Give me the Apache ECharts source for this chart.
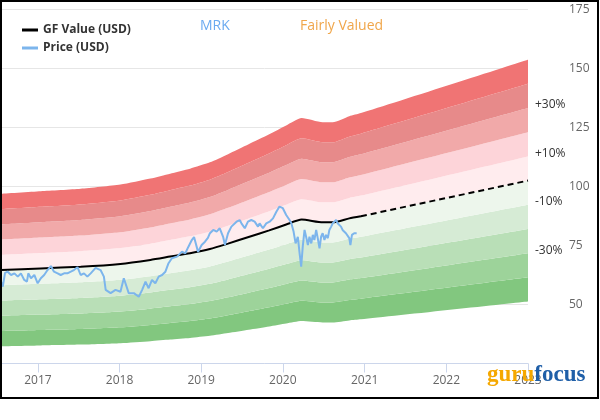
<!DOCTYPE html>
<html>
<head>
<meta charset="utf-8">
<script src="https://cdn.jsdelivr.net/npm/echarts@6/dist/echarts.min.js"></script>
<style>html,body{margin:0;padding:0;background:#fff}#c{width:600px;height:420px}</style>
</head>
<body>
<div id="c"></div>
<script>
// ---- data ----
const gfDates = ['2016-07-20','2017-01-14','2017-07-11','2018-01-05','2018-05-19','2018-08-15','2018-11-12','2019-02-09','2019-05-01','2019-08-01','2019-11-01','2020-01-16','2020-03-25','2020-06-27','2020-08-11','2020-10-24','2020-12-15'];
const gfValues = [64.6,65.3,66.0,67.2,68.9,70.3,71.7,73.5,75.8,78.6,81.4,83.9,86.0,84.8,84.8,86.5,87.4];
const projDates = ['2020-12-15','2023-01-01'];
const projValues = [87.4,102.5];
const priceDates = ['2016-07-20','2016-07-28','2016-08-07','2016-08-19','2016-09-03','2016-09-18','2016-10-03','2016-10-17','2016-11-01','2016-11-13','2016-11-19','2016-12-01','2016-12-16','2016-12-31','2017-01-14','2017-01-29','2017-02-13','2017-02-28','2017-03-14','2017-03-30','2017-04-13','2017-04-28','2017-05-13','2017-05-28','2017-06-11','2017-06-27','2017-07-11','2017-07-26','2017-08-10','2017-08-25','2017-09-16','2017-10-08','2017-10-23','2017-10-31','2017-11-22','2017-12-14','2018-01-05','2018-01-20','2018-01-28','2018-02-11','2018-03-06','2018-03-28','2018-04-12','2018-04-27','2018-05-11','2018-05-26','2018-06-10','2018-06-25','2018-07-10','2018-07-25','2018-08-08','2018-08-23','2018-09-15','2018-10-07','2018-10-22','2018-11-05','2018-11-20','2018-11-30','2018-12-18','2019-01-03','2019-01-18','2019-01-31','2019-02-09','2019-02-24','2019-03-11','2019-03-25','2019-04-09','2019-04-17','2019-05-01','2019-05-16','2019-06-08','2019-06-22','2019-06-30','2019-07-15','2019-07-29','2019-08-13','2019-08-28','2019-09-12','2019-09-19','2019-10-04','2019-10-19','2019-11-03','2019-11-18','2019-12-03','2019-12-17','2020-01-01','2020-01-16','2020-01-31','2020-02-08','2020-02-18','2020-02-27','2020-03-08','2020-03-16','2020-03-23','2020-03-30','2020-04-07','2020-04-14','2020-04-22','2020-04-29','2020-05-07','2020-05-14','2020-05-21','2020-05-29','2020-06-05','2020-06-13','2020-06-20','2020-06-27','2020-07-05','2020-07-12','2020-07-20','2020-07-27','2020-08-04','2020-08-11','2020-08-26','2020-09-02','2020-09-10','2020-09-17','2020-09-24','2020-10-09','2020-10-24','2020-10-29','2020-11-05','2020-11-15','2020-11-26'];
const priceValues = [59.7,57.6,63.4,63.9,62.5,63.2,61.8,63.2,60.4,59.7,63.2,61.1,62.5,59.0,61.1,62.5,64.6,66.3,63.9,63.2,62.5,63.2,63.2,63.9,64.6,65.8,62.5,63.2,61.8,63.2,65.5,64.6,61.8,56.2,54.8,56.2,55.4,61.1,60.4,54.8,54.8,53.3,56.2,59.7,56.9,60.4,59.0,61.8,62.5,63.9,67.5,69.6,70.3,72.4,71.7,74.5,77.3,78.6,72.3,75.2,76.6,78.2,80.2,81.6,80.9,82.3,78.7,75.2,80.2,83.0,85.1,85.8,84.4,82.3,85.1,85.8,85.1,83.0,84.4,82.3,84.4,85.1,86.5,89.3,91.5,90.8,87.9,85.8,84.4,80.9,75.9,78.7,71.7,66.0,74.5,81.6,78.7,75.2,78.7,75.9,79.5,77.3,81.6,78.1,73.8,78.7,80.2,77.3,79.5,78.1,81.6,83.0,84.4,85.8,84.4,85.1,83.0,81.6,80.2,78.1,75.2,79.5,80.2,80.2];
const bandBase = 0.5;
const bandStep = 0.1;
const bandColors = ['#82c77f','#9dd39a','#b9dfb7','#d6ebd5','#edf6ec','#ffecee','#fdd4d9','#f1a9a9','#e78a8a','#f07474'];
const bandLabels = {1:'-30%', 3:'-10%', 5:'+10%', 7:'+30%'};
const yTicks = [25,175,25]; // min, max, interval
const xRange = ['2016-07-20','2023-01-01'];

// ---- build ----
const allDates = gfDates.concat(projDates.slice(1));
const allGF = gfValues.concat(projValues.slice(1));
const FONT = 'Open Sans';
const series = [];
series.push({
  type:'line', stack:'band', name:'_base', symbol:'none', silent:true, smooth:0.2,
  lineStyle:{opacity:0, width:0},
  data: allDates.map((d,i)=>[d, allGF[i]*bandBase])
});
bandColors.forEach((c,i)=>{
  const s = {
    type:'line', stack:'band', name:'_band'+i, symbol:'none', silent:true, smooth:0.2,
    lineStyle:{width:0, opacity:0},
    areaStyle:{color:c, opacity:1},
    data: allDates.map((d,k)=>[d, allGF[k]*bandStep])
  };
  if (bandLabels[i]) {
    s.endLabel = {show:true, formatter:bandLabels[i], color:'#333', fontSize:12, fontFamily:FONT, distance:7, offset:[0,-3]};
  }
  series.push(s);
});
series.push({
  type:'line', name:'GF Value (USD)', color:'#000', symbol:'none', smooth:0.2, z:5,
  lineStyle:{color:'#000', width:2},
  data: gfDates.map((d,i)=>[d, gfValues[i]])
});
series.push({
  type:'line', name:'GF Value (USD)', color:'#000', symbol:'none', z:5,
  lineStyle:{color:'#000', width:2, type:[6,4]},
  data: projDates.map((d,i)=>[d, projValues[i]])
});
series.push({
  type:'line', name:'Price (USD)', color:'#7cb5ec', symbol:'none', z:6,
  lineStyle:{color:'#7cb5ec', width:2},
  data: priceDates.map((d,i)=>[d, priceValues[i]])
});

const YEAR = 365*24*3600*1000;
const chart = echarts.init(document.getElementById('c'), null, {renderer:'canvas'});
chart.setOption({
  animation:false,
  backgroundColor:'#fff',
  textStyle:{fontFamily:FONT},
  grid:{left:1, right:72, top:9.5, bottom:56.5, containLabel:false},
  title:[
    {text:'MRK', left:200, top:19, padding:0, textStyle:{color:'#6aaaf0', fontSize:14, fontWeight:'normal', fontFamily:FONT}},
    {text:'Fairly Valued', left:300, top:19, padding:0, textStyle:{color:'#f0a64a', fontSize:14, fontWeight:'normal', fontFamily:FONT}}
  ],
  legend:{
    data:['GF Value (USD)','Price (USD)'], orient:'vertical', left:22, top:24, padding:0,
    icon:'rect', itemWidth:16, itemHeight:3, itemGap:6,
    textStyle:{fontSize:12, fontWeight:'bold', color:'#333', fontFamily:FONT}
  },
  xAxis:{
    type:'time', min:xRange[0], max:xRange[1], minInterval:YEAR, maxInterval:YEAR*1.01,
    axisLine:{lineStyle:{color:'#ccd6eb'}},
    axisTick:{show:true, length:9, lineStyle:{color:'#ccd6eb'}},
    axisLabel:{color:'#666', fontSize:12, fontFamily:FONT, margin:11, showMinLabel:false, showMaxLabel:true,
      formatter:function(v){const d=new Date(v); return (d.getMonth()===0 && d.getDate()===1)? String(d.getFullYear()):'';}},
    splitLine:{show:false}
  },
  yAxis:{
    type:'value', position:'right', min:yTicks[0], max:yTicks[1], interval:yTicks[2],
    axisLine:{show:false}, axisTick:{show:false},
    axisLabel:{color:'#666', fontSize:12, fontFamily:FONT, margin:41, showMinLabel:false, align:'left'},
    splitLine:{lineStyle:{color:'#e6e6e6'}}
  },
  series:series,
  graphic:[
    {type:'rect', shape:{x:1, y:1, width:597, height:397}, style:{fill:null, stroke:'#000', lineWidth:2}, z:100, silent:true},
    {type:'text', x:487, y:375, z:100, silent:true, style:{
      text:'{a|guru}{b|focus}', verticalAlign:'middle',
      rich:{a:{fill:'#f5a800', fontSize:23, fontWeight:'bold', fontFamily:'Liberation Sans Narrow'},
            b:{fill:'#1f5fa8', fontSize:23, fontWeight:'bold', fontFamily:'Liberation Sans Narrow'}}
    }}
  ]
});
</script>
</body>
</html>
